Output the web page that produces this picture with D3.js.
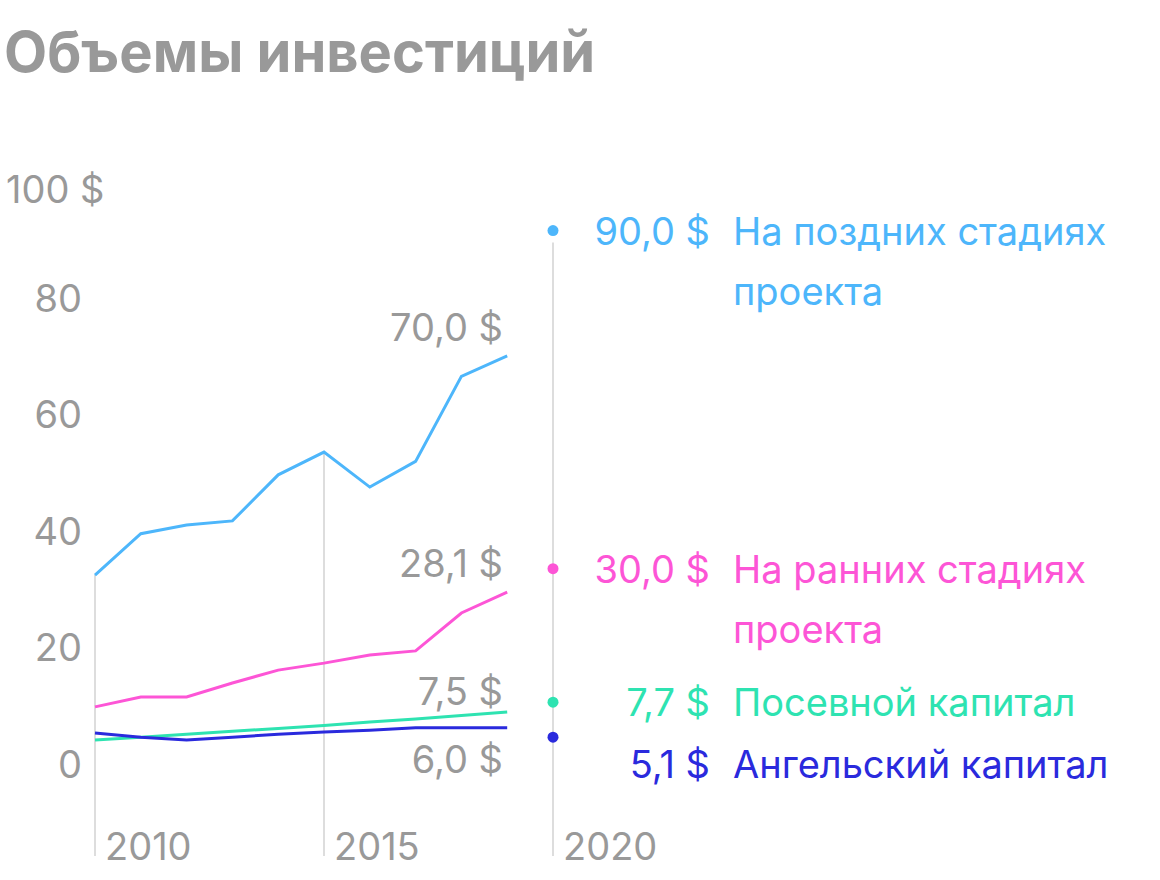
<!DOCTYPE html>
<html><head><meta charset="utf-8">
<script src="https://cdn.jsdelivr.net/npm/d3@7/dist/d3.min.js"></script>
<style>body{margin:0;background:#fff}svg{font-family:Inter,Roboto,"Noto Sans",sans-serif}</style>
</head><body><svg id="c" width="1160" height="880"></svg>
<script>
const years=[2010,2011,2012,2013,2014,2015,2016,2017,2018,2019];
const late=[32.4,39.5,41.0,41.7,49.6,53.5,47.5,51.9,66.5,70.0];
const early=[9.8,11.5,11.5,13.9,16.1,17.3,18.7,19.4,25.9,29.5];
const seed=[4.1,4.6,5.1,5.6,6.1,6.6,7.2,7.7,8.3,8.9];
const angel=[5.3,4.6,4.1,4.6,5.1,5.5,5.8,6.2,6.2,6.2];
const seriesNames=["На поздних стадиях проекта","На ранних стадиях проекта","Посевной капитал","Ангельский капитал"];
const colors=["#4db6fb","#fd55d6","#2ee3b1","#2a2add"];
const endLabels=["70,0 $","28,1 $","7,5 $","6,0 $"];
const endLabelPos=[75,34.5,12.5,0.8];
const legendValues=["90,0 $","30,0 $","7,7 $","5,1 $"];
const legendPos=[91.5,33.5,10.6,4.6];
const legendTextPos=[91.5,33.5,10.6,0];
const yTicks=[0,20,40,60,80,100];
const xTicks=[2010,2015,2020];
const all=[late,early,seed,angel];

const svg=d3.select("#c");
const x=d3.scaleLinear().domain([2010,2020]).range([95,553]);
const y=d3.scaleLinear().domain([0,100]).range([764,181]);
const gray="#999";

svg.append("text").attr("x",4).attr("y",72).attr("font-size",56).attr("font-weight",700)
 .attr("fill",gray).text("Объемы инвестиций");

yTicks.forEach(t=>svg.append("text").attr("x",t===100?6:82).attr("text-anchor",t===100?"start":"end")
 .attr("y",y(t)+14+(t===100?8:0)).attr("font-size",38).attr("fill",gray).text(t===100?"100 $":t));

const gridTop={2010:y(late[0]),2015:y(late[5]),2020:y(legendPos[0])+12};
xTicks.forEach(t=>{
 svg.append("line").attr("x1",x(t)).attr("x2",x(t)).attr("y1",gridTop[t]).attr("y2",856)
  .attr("stroke","#ddd").attr("stroke-width",2);
 svg.append("text").attr("x",x(t)+10).attr("y",860).attr("font-size",38).attr("fill",gray).text(t);
});

const line=d3.line().x((d,i)=>x(years[i])).y(d=>y(d));
all.forEach((s,k)=>{
 svg.append("path").attr("d",line(s)).attr("fill","none").attr("stroke",colors[k]).attr("stroke-width",3);
 svg.append("text").attr("x",503).attr("y",y(endLabelPos[k])+14).attr("text-anchor","end")
  .attr("font-size",38).attr("fill",gray).text(endLabels[k]);
 svg.append("circle").attr("cx",x(2020)).attr("cy",y(legendPos[k])).attr("r",5.5).attr("fill",colors[k]);
 const ly=y(legendTextPos[k]);
 svg.append("text").attr("x",710).attr("y",ly+14).attr("text-anchor","end").attr("font-size",38)
  .attr("fill",colors[k]).text(legendValues[k]);
 const words=seriesNames[k].split(" ");
 const lines=k<2?[words.slice(0,-1).join(" "),words[words.length-1]]:[seriesNames[k]];
 lines.forEach((l,j)=>svg.append("text").attr("x",733).attr("y",ly+14+j*60).attr("font-size",38)
  .attr("fill",colors[k]).text(l));
});
</script></body></html>
